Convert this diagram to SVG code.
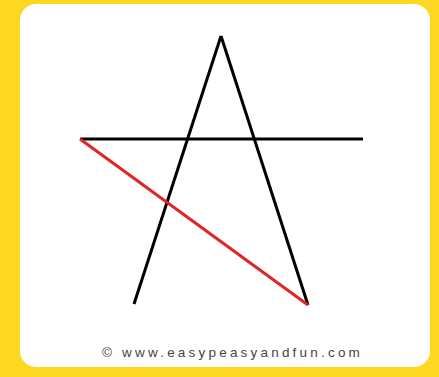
<svg xmlns="http://www.w3.org/2000/svg" width="439" height="377" viewBox="0 0 439 377">
<style>
.k{stroke:#000;stroke-width:3;stroke-linecap:butt;fill:none}
.r{stroke:#e02527;stroke-width:3;fill:none}
.t{font-family:"Liberation Sans",Arial,sans-serif;font-size:13.5px;fill:#444;letter-spacing:3.2px}
</style>
<rect width="439" height="377" fill="#fdd823"/>
<rect x="20" y="4" width="410" height="363" rx="16" fill="#fff"/>
<g id="star">
<line class="k" x1="134" y1="304" x2="221" y2="36"/>
<line class="k" x1="221" y1="36" x2="308" y2="305"/>
<line class="k" x1="80" y1="139" x2="363" y2="139"/>
<line class="r" x1="80" y1="139" x2="308" y2="305"/>
</g>
<text class="t" x="102" y="357">© www.easypeasyandfun.com</text>
</svg>
